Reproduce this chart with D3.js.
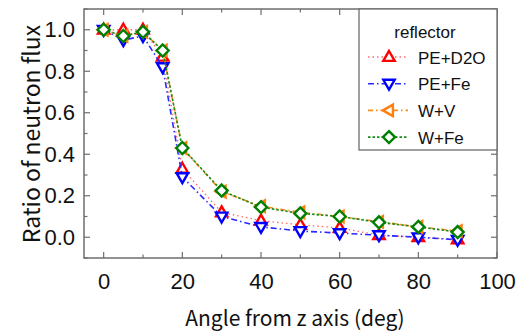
<!DOCTYPE html>
<html>
<head>
<meta charset="utf-8">
<script src="https://cdn.jsdelivr.net/npm/d3@7"></script>
<style>
  html, body { margin: 0; padding: 0; background: #fff; }
  svg { display: block; }
</style>
</head>
<body>
<svg id="chart" width="519" height="333"></svg>
<script>
// Angles (deg) at which the flux ratio was evaluated
const angles = [0, 5, 10, 15, 20, 30, 40, 50, 60, 70, 80, 90];

// Flux ratio per reflector configuration
const fluxPED2O = [1.00, 1.00, 1.00, 0.87, 0.33, 0.12, 0.08, 0.06, 0.045, 0.01, 0.00, -0.01];
const fluxPEFe  = [1.00, 0.95, 0.97, 0.82, 0.29, 0.10, 0.05, 0.03, 0.02, 0.01, 0.00, -0.012];
const fluxWV    = [1.00, 0.97, 0.99, 0.90, 0.43, 0.22, 0.15, 0.12, 0.10, 0.075, 0.05, 0.03];
const fluxWFe   = [1.00, 0.97, 0.99, 0.90, 0.43, 0.225, 0.145, 0.115, 0.10, 0.072, 0.05, 0.025];

const seriesNames = ["PE+D2O", "PE+Fe", "W+V", "W+Fe"];

const xTicks = [0, 20, 40, 60, 80, 100];
const yTicks = [0.0, 0.2, 0.4, 0.6, 0.8, 1.0];

const styles = {
  "PE+D2O": { color: "#ff0000", line: "#ff6a6a", dash: "1.5,3", shape: "up",    width: 1.3 },
  "PE+Fe":  { color: "#0000ff", line: "#2a2aff", dash: "6,3,1.5,3", shape: "down", width: 1.6 },
  "W+V":    { color: "#ff7f0e", line: "#ff8c1a", dash: "5,3,1.5,3", shape: "left", width: 1.6 },
  "W+Fe":   { color: "#008000", line: "#1a8c1a", dash: "2.5,2", shape: "diamond", width: 1.6 }
};

const seriesValues = [fluxPED2O, fluxPEFe, fluxWV, fluxWFe];

const svg = d3.select("#chart");
const plotL = 84, plotR = 497, plotT = 9, plotB = 258;

const x = d3.scaleLinear().domain([-5, 100]).range([plotL, plotR]);
const y = d3.scaleLinear().domain([-0.1, 1.1]).range([plotB, plotT]);

const frameColor = "#6e6e6e";
const tickFont = "'Liberation Sans Narrow', 'Arial Narrow', 'Liberation Sans', sans-serif";
const labelFont = "'Liberation Sans', Arial, sans-serif";

// plot frame
svg.append("rect")
  .attr("x", plotL).attr("y", plotT)
  .attr("width", plotR - plotL).attr("height", plotB - plotT)
  .attr("fill", "none").attr("stroke", frameColor).attr("stroke-width", 1.5);

// inward ticks on all four sides (major + minor)
const xMinor = d3.range(0, 101, 10);
const yMinor = d3.range(-0.1, 1.101, 0.1).map(v => +v.toFixed(2));
const tickG = svg.append("g").attr("stroke", frameColor).attr("stroke-width", 1.2);
xMinor.forEach(v => {
  const len = (v % 20 === 0) ? 6 : 3.5;
  const px = x(v);
  tickG.append("line").attr("x1", px).attr("x2", px).attr("y1", plotB).attr("y2", plotB - len);
  tickG.append("line").attr("x1", px).attr("x2", px).attr("y1", plotT).attr("y2", plotT + len);
});
yMinor.forEach(v => {
  const isMajor = Math.abs(Math.round(v * 10) % 2) === 0;
  const len = isMajor ? 6 : 3.5;
  const py = y(v);
  tickG.append("line").attr("y1", py).attr("y2", py).attr("x1", plotL).attr("x2", plotL + len);
  tickG.append("line").attr("y1", py).attr("y2", py).attr("x1", plotR).attr("x2", plotR - len);
});

// tick labels via axis generators (tick marks themselves hidden)
const xAxis = d3.axisBottom(x).tickValues(xTicks).tickSize(0).tickPadding(15).tickFormat(d3.format("d"));
const gx = svg.append("g").attr("transform", `translate(0,${plotB})`).call(xAxis);
gx.select(".domain").remove();
gx.selectAll("text").attr("font-family", tickFont).attr("font-size", 22).attr("fill", "#111");

const yAxis = d3.axisLeft(y).tickValues(yTicks).tickSize(0).tickPadding(9).tickFormat(d3.format(".1f"));
const gy = svg.append("g").attr("transform", `translate(${plotL},0)`).call(yAxis);
gy.select(".domain").remove();
gy.selectAll("text").attr("font-family", tickFont).attr("font-size", 22).attr("fill", "#111");

// axis titles
svg.append("text")
  .attr("x", 295).attr("y", 326)
  .attr("text-anchor", "middle")
  .attr("font-family", "'Noto Sans CJK JP', sans-serif")
  .attr("font-size", 21).attr("fill", "#111")
  .text("Angle from z axis (deg)");

svg.append("text")
  .attr("transform", "translate(40,134) rotate(-90)")
  .attr("text-anchor", "middle")
  .attr("font-family", "'Noto Sans CJK JP', sans-serif")
  .attr("font-size", 23).attr("fill", "#111")
  .text("Ratio of neutron flux");

// marker path generator
function markerPath(shape, s) {
  switch (shape) {
    case "up":      return `M0,${-s}L${s * 0.95},${s * 0.65}L${-s * 0.95},${s * 0.65}Z`;
    case "down":    return `M0,${s}L${s * 0.95},${-s * 0.65}L${-s * 0.95},${-s * 0.65}Z`;
    case "left":    return `M${-s},0L${s * 0.65},${-s * 0.95}L${s * 0.65},${s * 0.95}Z`;
    case "diamond": return `M0,${-s}L${s},0L0,${s}L${-s},0Z`;
  }
}

const line = d3.line().x(d => x(d[0])).y(d => y(d[1]));

seriesNames.forEach((name, i) => {
  const st = styles[name];
  const pts = angles.map((a, j) => [a, seriesValues[i][j]]);
  const g = svg.append("g");
  g.append("path")
    .attr("d", line(pts))
    .attr("fill", "none")
    .attr("stroke", st.line)
    .attr("stroke-width", st.width)
    .attr("stroke-dasharray", st.dash);
  g.selectAll("path.mk").data(pts).join("path")
    .attr("class", "mk")
    .attr("transform", d => `translate(${x(d[0])},${y(d[1])})`)
    .attr("d", markerPath(st.shape, 6))
    .attr("fill", "#fff")
    .attr("stroke", st.color)
    .attr("stroke-width", 2.4);
});

// legend
const lg = svg.append("g");
lg.append("rect")
  .attr("x", 359).attr("y", plotT).attr("width", plotR - 359).attr("height", 141)
  .attr("fill", "#fff").attr("stroke", frameColor).attr("stroke-width", 1.3);
lg.append("text")
  .attr("x", 425).attr("y", 38).attr("text-anchor", "middle")
  .attr("font-family", labelFont).attr("font-size", 17).attr("fill", "#111")
  .text("reflector");
seriesNames.forEach((name, i) => {
  const st = styles[name];
  const cy = 57 + i * 26.7;
  lg.append("line")
    .attr("x1", 368).attr("x2", 408).attr("y1", cy).attr("y2", cy)
    .attr("stroke", st.line).attr("stroke-width", st.width)
    .attr("stroke-dasharray", st.dash);
  lg.append("path")
    .attr("transform", `translate(389,${cy})`)
    .attr("d", markerPath(st.shape, 6))
    .attr("fill", "#fff").attr("stroke", st.color).attr("stroke-width", 2.4);
  lg.append("text")
    .attr("x", 418).attr("y", cy + 6.5)
    .attr("font-family", labelFont).attr("font-size", 17).attr("fill", "#111")
    .text(name);
});
</script>
</body>
</html>
